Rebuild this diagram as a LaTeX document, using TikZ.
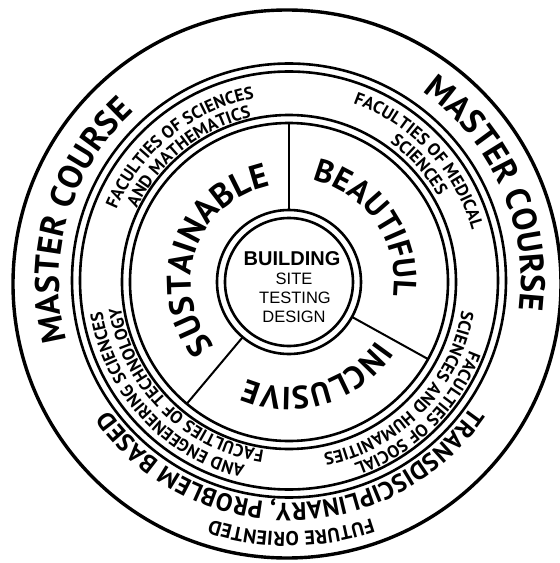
\documentclass[tikz,border=0pt]{standalone}
\usepackage{fontspec}
\setmainfont{Liberation Sans}
\newfontfamily\ptsans{PT Sans}
\usetikzlibrary{decorations.text}
\newcommand{\rbold}[1]{\ptsans\bfseries\fontsize{#1}{#1}\selectfont}
\newcommand{\rreg}[1]{\ptsans\bfseries\fontsize{#1}{#1}\selectfont}
\newcommand{\ringtext}[4]{%
  \path[decorate, decoration={text along path, text align=center, text={|#3|#4}}]
    ({#2+90}:#1pt) arc[start angle={#2+90}, end angle={#2-90}, radius=#1pt];}
\tikzset{
  outerring/.style={line width=3.4pt},
  ring/.style={line width=2.6pt},
  divider/.style={line width=2pt}
}
\begin{document}
\begin{tikzpicture}[x=1pt,y=1pt]
\useasboundingbox (-289,-281) rectangle (271,282);
\clip (-289,-281) rectangle (271,282);
\fill[white] (-289,-281) rectangle (271,282);
% circles
\draw[outerring] (-2,-2) circle[radius=274pt];
\draw[ring] (0,1.5) circle[radius=217pt];
\draw[ring] (0,1.5) circle[radius=209pt];
\draw[ring] (0,0) circle[radius=167pt];
\draw[ring] (0,0) circle[radius=159pt];
\draw[ring] (0,0) circle[radius=72pt];
\draw[ring] (0,0) circle[radius=64pt];
% dividers
\coordinate (d1a) at (90:72pt);  \coordinate (d1b) at (90:159pt);
\coordinate (d2a) at (-29:72pt); \coordinate (d2b) at (-29:159pt);
\coordinate (d3a) at (-130:72pt); \coordinate (d3b) at (-130:159pt);
\draw[divider] (d1a) -- (d1b);
\draw[divider] (d2a) -- (d2b);
\draw[divider] (d3a) -- (d3b);
% centre text
\node[font=\bfseries\fontsize{20}{20}\selectfont] (building) at (3,23) {BUILDING};
\node[font=\fontsize{16.5}{16.5}\selectfont] (site) at (5,3) {SITE};
\node[font=\fontsize{16.5}{16.5}\selectfont] (testing) at (6,-16) {TESTING};
\node[font=\fontsize{16.5}{16.5}\selectfont] (design) at (5,-35) {DESIGN};
% inner ring words
\ringtext{98}{161}{\rbold{34}}{SUSTAINABLE}
\ringtext{105}{34.6}{\rbold{32}}{BEAUTIFUL}
\ringtext{105}{-73.5}{\rbold{32}}{INCLUSIVE}
% faculties
\ringtext{187}{129}{\rreg{17.5}}{FACULTIES OF SCIENCES}
\ringtext{169}{128.5}{\rreg{17.5}}{AND MATHEMATICS}
\ringtext{190}{43}{\rreg{17.5}}{FACULTIES OF MEDICAL}
\ringtext{172}{42}{\rreg{17.5}}{SCIENCES}
\ringtext{193}{-45.5}{\rreg{17.5}}{FACULTIES OF SOCIAL}
\ringtext{175}{-44}{\rreg{17.5}}{SCIENCES AND HUMANITIES}
\ringtext{189}{222.8}{\rreg{17.5}}{AND ENGEENERING SCIENCES}
\ringtext{170}{225}{\rreg{17.5}}{FACULTIES OF TECHNOLOGY}
% outer ring
\ringtext{230}{163.5}{\rbold{34}}{MASTER COURSE}
\ringtext{232}{24}{\rbold{34}}{MASTER COURSE}
\ringtext{221}{-89.5}{\rbold{25}}{TRANSDISCIPLINARY, PROBLEM BASED}
\ringtext{250}{-89.5}{\rbold{20}}{FUTURE ORIENTED}
\end{tikzpicture}
\end{document}
